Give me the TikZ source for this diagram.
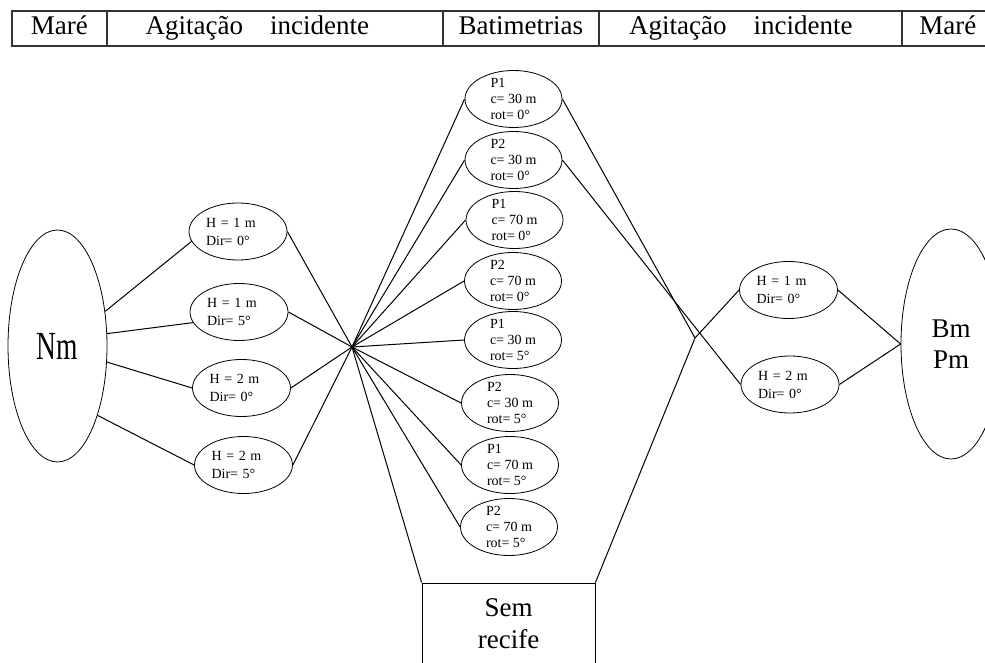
\documentclass[tikz,border=0pt]{standalone}
\usepackage{fontspec}
\setmainfont{Liberation Serif}
\usepackage{graphicx}
\usetikzlibrary{shapes.geometric}

\begin{document}
\begin{tikzpicture}[x=0.5pt, y=-0.5pt,
    cell/.style={rectangle, draw=black!80, line width=0.8pt, minimum height=17.5pt,
      text height=9.5pt, text depth=3pt, inner sep=0pt, anchor=north west,
      font=\fontsize{13.5}{16}\selectfont},
    big/.style={ellipse, draw, inner sep=0pt, minimum width=50pt, minimum height=115pt,
      align=center, font=\fontsize{13.5}{15.5}\selectfont},
    agit/.style={ellipse, draw, inner sep=0pt, minimum width=49pt, minimum height=28.5pt,
      text width=32pt, align=left, font=\fontsize{7}{9}\selectfont},
    bat/.style={ellipse, draw, inner xsep=0pt, inner ysep=-4pt, minimum width=48.5pt,
      minimum height=28.5pt, align=left, font=\fontsize{7}{8}\selectfont},
    box/.style={rectangle, draw, inner sep=0pt, minimum width=86.5pt, minimum height=41pt,
      align=center, font=\fontsize{13.5}{16}\selectfont},
    link/.style={draw, line width=0.5pt},
  ]
    \useasboundingbox (0,0) rectangle (985,663);
    \clip (0,0) rectangle (985,663);

    \node[cell, minimum width=47.5pt]  (hMare)  at (11,10)  {Maré};
    \node[cell, minimum width=168pt]   (hAgit)  at (106,10) {Agitação\quad incidente\hspace*{17.5pt}};
    \node[cell, minimum width=78pt]    (hBat)   at (442,10) {Batimetrias};
    \node[cell, minimum width=151.5pt] (hAgitR) at (598,10) {Agitação\quad incidente\hspace*{9.5pt}};
    \node[cell, minimum width=46pt]    (hMareR) at (901,10) {Maré};

    \node[big, minimum width=49.5pt, minimum height=116pt, font=\fontsize{13.75}{16}\selectfont]
      (nm) at (57.5,346) {\scalebox{1}[1.45]{Nm}};
    \node[big] (bm) at (951,344) {Bm\\Pm};

    \node[agit] (ag1)  at (238,231.5) {H = 1 m\\Dir= 0°};
    \node[agit] (ag2)  at (239,312)   {H = 1 m\\Dir= 5°};
    \node[agit] (ag3)  at (241.5,388) {H = 2 m\\Dir= 0°};
    \node[agit] (ag4)  at (243.5,465) {H = 2 m\\Dir= 5°};
    \node[agit] (agR1) at (788.5,290) {H = 1 m\\Dir= 0°};
    \node[agit] (agR2) at (790,384.5) {H = 2 m\\Dir= 0°};

    \foreach \n/\bx/\by/\prof/\corda/\rotv in {1/513.5/99/P1/30/0, 2/513.5/160/P2/30/0,
        3/514.5/220/P1/70/0, 4/513/281/P2/70/0, 5/513/340/P1/30/5, 6/510/403/P2/30/5,
        7/510/465/P1/70/5, 8/509/527/P2/70/5}
      \node[bat] (bat\n) at (\bx,\by) {\prof\\c= \corda{} m\\rot= \rotv°};

    \node[box] (sem) at (508.5,624) {Sem\\recife};

    \coordinate (hubL) at (352,347);
    \coordinate (hubR) at (695,338);

    \draw[link] (nm.36)  -- (ag1.192);
    \draw[link] (nm.14)  -- (ag2.193);
    \draw[link] (nm.-18) -- (ag3.west);
    \draw[link] (nm.-60) -- (ag4.west);
    \foreach \k in {1,...,4} \draw[link] (ag\k.east) -- (hubL);
    \foreach \k in {1,...,8} \draw[link] (hubL) -- (bat\k.west);
    \draw[link] (hubL) -- (sem.north west);
    \draw[link] (bat1.east) -- (hubR);
    \draw[link] (bat2.east) -- (agR2.west);
    \draw[link] (hubR) -- (agR1.west);
    \draw[link] (hubR) -- (sem.north east);
    \draw[link] (agR1.east) -- (bm.west);
    \draw[link] (agR2.east) -- (bm.west);
  \end{tikzpicture}
\end{document}
